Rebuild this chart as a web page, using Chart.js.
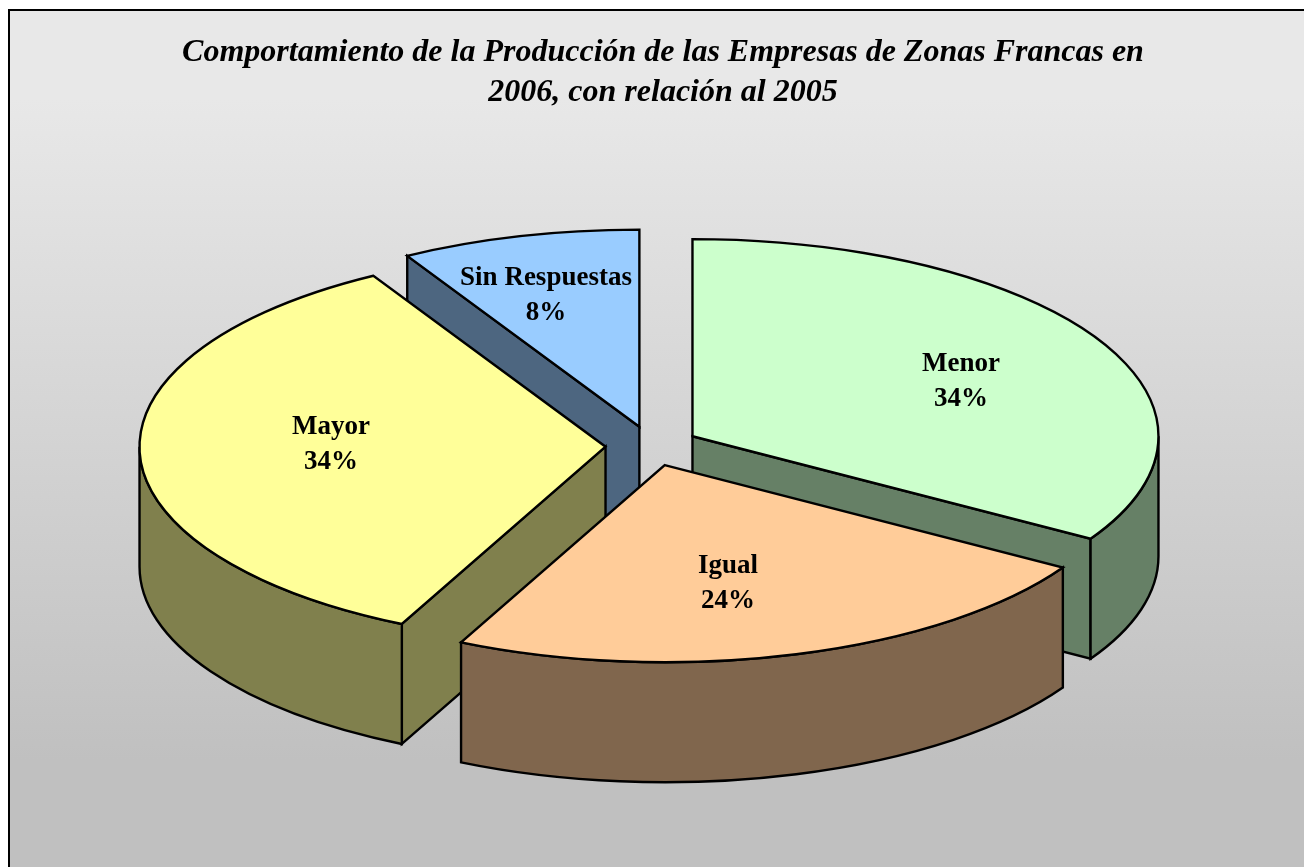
<!DOCTYPE html>
<html>
<head>
<meta charset="utf-8">
<style>html,body{margin:0;padding:0;background:#fff;overflow:hidden}canvas{display:block}</style>
<script src="https://cdn.jsdelivr.net/npm/chart.js@4"></script>
</head>
<body>
<canvas id="c" width="1304" height="867"></canvas>
<script>
const titleLines = ['Comportamiento de la Producción de las Empresas de Zonas Francas en', '2006, con relación al 2005'];
const categories = ['Menor', 'Igual', 'Mayor', 'Sin Respuestas'];
const values = [33.7, 23.5, 34.5, 8.3];
const percentLabels = ['34%', '24%', '34%', '8%'];
const topColors = ['#CCFFCC', '#FFCC99', '#FFFF99', '#99CCFF'];
const wallColors = ['#668066', '#80664D', '#80804D', '#4D6680'];
const drawOrder = [3, 0, 2, 1];
const labelCenters = [[961, 364], [728, 566], [331, 427], [546, 278]];
const explode = [47, 47, 46, 47];

const CX = 651.5, CY = 446, TILT = 0.423, DEPTH = 120, LINE = 2.4;
const SERIF = '"Liberation Serif", "Times New Roman", serif';

function geom(el, i) {
  const p = el.getProps(['startAngle', 'endAngle', 'outerRadius']);
  const mid = (p.startAngle + p.endAngle) / 2;
  return {
    a0: p.startAngle, a1: p.endAngle, r: p.outerRadius,
    x: CX + Math.cos(mid) * explode[i],
    y: CY + Math.sin(mid) * explode[i] * TILT
  };
}
function pt(g, a) { return [g.x + Math.cos(a) * g.r, g.y + Math.sin(a) * g.r * TILT]; }
function paint(ctx, fill) {
  ctx.fillStyle = fill;
  ctx.fill();
  ctx.stroke();
}
function radialWall(ctx, g, a, fill) {
  const e = pt(g, a);
  ctx.beginPath();
  ctx.moveTo(g.x, g.y);
  ctx.lineTo(e[0], e[1]);
  ctx.lineTo(e[0], e[1] + DEPTH);
  ctx.lineTo(g.x, g.y + DEPTH);
  ctx.closePath();
  paint(ctx, fill);
}
function outerWall(ctx, g, fill) {
  [[0, Math.PI], [-2 * Math.PI, -Math.PI], [2 * Math.PI, 3 * Math.PI]].forEach(([lo, hi]) => {
    const t0 = Math.max(g.a0, lo), t1 = Math.min(g.a1, hi);
    if (t1 <= t0) return;
    ctx.beginPath();
    ctx.ellipse(g.x, g.y, g.r, g.r * TILT, 0, t0, t1);
    ctx.ellipse(g.x, g.y + DEPTH, g.r, g.r * TILT, 0, t1, t0, true);
    ctx.closePath();
    paint(ctx, fill);
  });
}

const pie3d = {
  id: 'pie3d',
  beforeDraw(chart) {
    const ctx = chart.ctx, w = chart.width, h = chart.height;
    const grad = ctx.createLinearGradient(0, 0, 0, h);
    grad.addColorStop(0.115, '#E8E8E8');
    grad.addColorStop(0.877, '#C0C0C0');
    ctx.save();
    ctx.fillStyle = '#fff';
    ctx.fillRect(0, 0, w, h);
    ctx.fillStyle = grad;
    ctx.fillRect(9, 10, w, h);
    ctx.strokeStyle = '#000';
    ctx.lineWidth = 2;
    ctx.beginPath();
    ctx.moveTo(9, h + 2);
    ctx.lineTo(9, 10);
    ctx.lineTo(w + 2, 10);
    ctx.stroke();
    ctx.restore();
  },
  beforeDatasetDraw(chart, args) {
    const ctx = chart.ctx, arcs = chart.getDatasetMeta(args.index).data;
    ctx.save();
    ctx.strokeStyle = '#000';
    ctx.lineWidth = LINE;
    ctx.lineJoin = 'miter';
    drawOrder.forEach(i => {
      const el = arcs[i], g = geom(el, i);
      if (Math.sin(g.a0 + Math.PI / 2) < -1e-6) radialWall(ctx, g, g.a0, wallColors[i]);
      if (Math.sin(g.a1 + Math.PI / 2) > 1e-6) radialWall(ctx, g, g.a1, wallColors[i]);
      outerWall(ctx, g, wallColors[i]);
      ctx.save();
      ctx.translate(g.x, g.y);
      ctx.scale(1, TILT);
      ctx.translate(-el.x, -el.y);
      el.draw(ctx);
      ctx.restore();
      ctx.beginPath();
      ctx.moveTo(g.x, g.y);
      ctx.ellipse(g.x, g.y, g.r, g.r * TILT, 0, g.a0, g.a1);
      ctx.closePath();
      ctx.stroke();
    });
    ctx.restore();
    return false;
  },
  afterDatasetsDraw(chart) {
    const ctx = chart.ctx;
    ctx.save();
    ctx.fillStyle = '#000';
    ctx.font = 'bold 27px ' + SERIF;
    ctx.textAlign = 'center';
    ctx.textBaseline = 'middle';
    categories.forEach((name, i) => {
      const [x, y] = labelCenters[i];
      ctx.fillText(name, x, y);
      ctx.fillText(percentLabels[i], x, y + 35);
    });
    ctx.restore();
  }
};

new Chart(document.getElementById('c'), {
  type: 'pie',
  plugins: [pie3d],
  data: {
    labels: categories,
    datasets: [{
      data: values,
      backgroundColor: topColors,
      borderWidth: 0,
      radius: 466,
      clip: false
    }]
  },
  options: {
    responsive: false,
    animation: false,
    layout: { padding: { left: 22 } },
    plugins: {
      legend: { display: false },
      tooltip: { enabled: false },
      title: {
        display: true,
        text: titleLines,
        color: '#000',
        font: { family: SERIF, size: 32, weight: 'bold', style: 'italic', lineHeight: 1.25 },
        padding: { top: 33, bottom: 10 }
      }
    }
  }
});
</script>
</body>
</html>
